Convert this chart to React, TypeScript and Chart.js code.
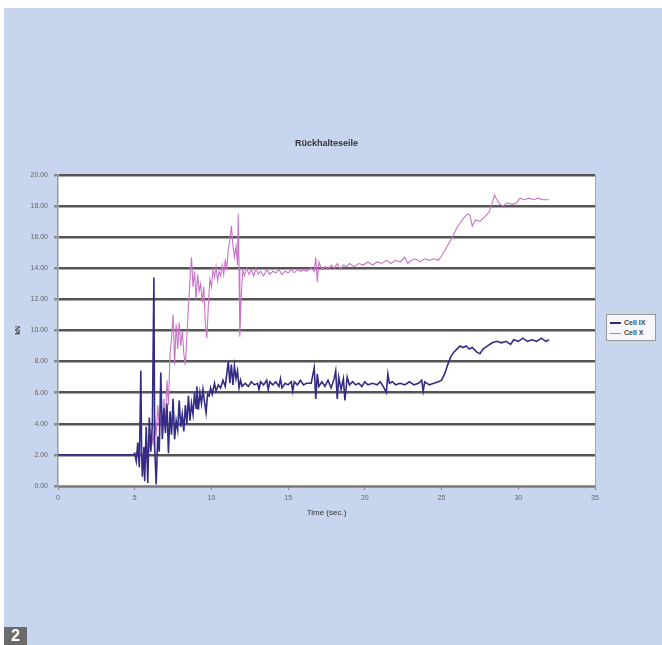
import React, { useEffect, useRef } from "react";
import { Chart, registerables } from "chart.js";

Chart.register(...registerables);

const chartTitle = "Rückhalteseile";
const xAxisTitle = "Time (sec.)";
const yAxisTitle = "kN";
const seriesNames = ["Cell IX", "Cell X"];
const seriesColors = ["#342C84", "#C873C8"];

const cellIXTime = [
  0, 4.9, 5.0, 5.1, 5.2, 5.3, 5.4, 5.45, 5.5, 5.6, 5.65, 5.75, 5.85, 5.95, 6.05, 6.15, 6.25, 6.3, 6.4, 6.5,
  6.6, 6.7, 6.8, 6.9, 7.0, 7.1, 7.2, 7.3, 7.4, 7.5, 7.6, 7.7, 7.8, 7.9, 8.0, 8.1, 8.2, 8.3, 8.4, 8.5,
  8.6, 8.7, 8.8, 8.9, 9.0, 9.05, 9.15, 9.25, 9.35, 9.45, 9.55, 9.65, 9.75, 9.85, 9.95, 10.05, 10.2, 10.3, 10.45, 10.6,
  10.75, 10.9, 11.0, 11.1, 11.2, 11.3, 11.4, 11.5, 11.6, 11.7, 11.8, 11.9, 12.0, 12.2, 12.4, 12.6, 12.8, 13.0, 13.1, 13.2,
  13.4, 13.6, 13.7, 13.8, 14.0, 14.2, 14.4, 14.5, 14.6, 14.8, 15.0, 15.2, 15.3, 15.4, 15.6, 15.8, 16.0, 16.2, 16.5, 16.7,
  16.8, 16.9, 17.0, 17.2, 17.4, 17.6, 17.8, 18.0, 18.1, 18.2, 18.3, 18.45, 18.6, 18.7, 18.85, 19.0, 19.2, 19.4, 19.6, 19.8,
  20.0, 20.2, 20.5, 20.8, 21.0, 21.2, 21.4, 21.5, 21.6, 21.8, 22.0, 22.3, 22.6, 22.9, 23.2, 23.5, 23.7, 23.8, 23.9, 24.2,
  24.5, 24.8, 25.0, 25.2, 25.4, 25.6, 25.8, 26.0, 26.2, 26.4, 26.6, 26.8, 27.0, 27.3, 27.5, 27.7, 28.0, 28.3, 28.6, 28.9,
  29.2, 29.5, 29.7, 30.0, 30.3, 30.6, 30.9, 31.2, 31.5, 31.8, 32.0,
];
const cellIXValues = [
  2.0, 2.0, 2.1, 1.6, 2.8, 1.2, 7.4, 2.0, 0.6, 2.5, 0.3, 3.8, 0.2, 4.4, 2.2, 4.0, 13.4, 2.5, 0.1, 3.2,
  2.2, 7.3, 3.0, 5.0, 3.4, 5.3, 2.1, 4.8, 3.3, 5.6, 3.0, 4.2, 3.6, 5.5, 3.8, 4.6, 3.5, 5.2, 4.0, 5.8,
  4.2, 5.3, 4.6, 6.0, 5.0, 6.4, 4.9, 6.0, 5.3, 6.2, 5.4, 4.7, 5.9, 5.8, 6.3, 5.9, 6.6, 6.1, 6.5, 6.3,
  6.8, 6.4, 7.2, 8.0, 6.6, 7.8, 6.5, 7.7, 6.9, 7.4, 6.3, 6.8, 6.4, 6.6, 6.4, 6.7, 6.5, 6.6, 6.2, 6.7,
  6.5, 6.8, 6.2, 6.7, 6.5, 6.7, 6.4, 6.9, 6.3, 6.6, 6.5, 6.7, 6.1, 6.7, 6.5, 6.8, 6.5, 6.6, 6.6, 7.6,
  5.6, 7.2, 6.4, 6.7, 6.4, 6.8, 6.3, 6.9, 7.4, 5.6, 7.0, 6.2, 6.9, 5.5, 7.0, 6.5, 6.7, 6.5, 6.6, 6.4,
  6.7, 6.5, 6.6, 6.5, 6.7, 6.4, 6.0, 7.2, 6.6, 6.7, 6.5, 6.6, 6.5, 6.7, 6.5, 6.6, 6.8, 6.1, 6.7, 6.5,
  6.6, 6.7, 6.8, 7.2, 7.8, 8.3, 8.6, 8.8, 9.0, 8.9, 9.0, 8.8, 8.9, 8.6, 8.5, 8.8, 9.0, 9.2, 9.3, 9.2,
  9.3, 9.1, 9.4, 9.3, 9.5, 9.3, 9.4, 9.3, 9.5, 9.3, 9.4,
];

const cellXTime = [
  0, 5.0, 5.3, 5.5, 5.7, 5.8, 5.9, 6.0, 6.1, 6.2, 6.3, 6.4, 6.5, 6.6, 6.7, 6.8, 6.9, 7.0, 7.1, 7.2,
  7.3, 7.4, 7.5, 7.6, 7.7, 7.8, 7.9, 8.0, 8.1, 8.2, 8.3, 8.4, 8.5, 8.6, 8.7, 8.8, 8.9, 9.0, 9.1, 9.2,
  9.3, 9.4, 9.5, 9.6, 9.7, 9.8, 9.9, 10.0, 10.1, 10.2, 10.3, 10.4, 10.5, 10.6, 10.7, 10.8, 10.9, 11.0, 11.1, 11.2,
  11.3, 11.4, 11.5, 11.6, 11.7, 11.75, 11.8, 11.85, 11.95, 12.05, 12.15, 12.3, 12.45, 12.6, 12.75, 12.9, 13.05, 13.2, 13.4, 13.6,
  13.8, 14.0, 14.2, 14.4, 14.6, 14.8, 15.0, 15.2, 15.4, 15.6, 15.8, 16.0, 16.2, 16.5, 16.7, 16.8, 16.9, 17.0, 17.2, 17.4,
  17.6, 17.8, 18.0, 18.2, 18.4, 18.6, 18.8, 19.0, 19.3, 19.6, 19.9, 20.2, 20.5, 20.8, 21.1, 21.4, 21.7, 22.0, 22.3, 22.6,
  22.8, 23.0, 23.3, 23.6, 23.9, 24.2, 24.5, 24.8, 25.0, 25.3, 25.6, 25.8, 26.0, 26.2, 26.5, 26.7, 26.85, 27.0, 27.2, 27.5,
  27.8, 28.1, 28.3, 28.45, 28.6, 28.8, 29.0, 29.3, 29.6, 29.9, 30.1, 30.4, 30.7, 31.0, 31.3, 31.6, 32.0,
];
const cellXValues = [
  2.0, 2.0, 2.2, 1.8, 2.6, 1.5, 3.0, 2.4, 3.6, 2.6, 4.5, 3.2, 5.2, 3.8, 4.3, 3.2, 5.6, 4.0, 6.8, 5.2,
  8.5, 9.5, 11.0, 7.8, 10.4, 8.8, 10.5, 9.0, 10.0, 8.5, 7.8, 9.6, 11.5, 13.2, 14.7, 12.8, 13.8, 12.0, 13.6, 12.5,
  13.0, 11.8, 12.8, 10.5, 9.5, 11.6, 13.3, 12.8, 13.9, 13.4, 14.1, 13.2, 13.8, 13.5, 14.2, 13.6, 14.5, 14.0, 15.2, 15.8,
  16.7, 15.5, 14.7, 15.4, 14.2, 17.5, 14.0, 9.6, 12.4, 13.9, 13.5, 14.0, 13.6, 13.9, 13.5, 14.0, 13.6, 13.8, 13.5, 13.9,
  13.6, 13.8, 13.7, 13.9, 13.6, 13.8, 13.7, 13.9, 13.7, 13.9, 13.8, 13.9, 13.8, 14.0, 13.8, 14.7, 13.1, 14.4, 13.9, 14.1,
  13.9, 14.2, 14.0, 14.3, 13.9, 14.2, 14.1, 14.3, 14.1, 14.3, 14.2, 14.4, 14.2, 14.4, 14.3, 14.5, 14.3, 14.5, 14.4, 14.7,
  14.3, 14.5, 14.6, 14.4, 14.6, 14.5, 14.6, 14.5, 14.8, 15.3, 15.8, 16.2, 16.6, 16.9, 17.3, 17.5, 17.4, 16.7, 17.1, 17.0,
  17.3, 17.6, 18.2, 18.7, 18.4, 18.1, 18.0, 18.2, 18.1, 18.2, 18.5, 18.4, 18.5, 18.4, 18.5, 18.4, 18.4,
];

const yTicks = [0, 2, 4, 6, 8, 10, 12, 14, 16, 18, 20];
const xTicks = [0, 5, 10, 15, 20, 25, 30, 35];

const FONT = "'Liberation Sans', Arial, sans-serif";

const plotFrame = {
  id: "plotFrame",
  beforeDraw(chart: any) {
    const { ctx, chartArea } = chart;
    ctx.save();
    ctx.fillStyle = "#ffffff";
    ctx.fillRect(chartArea.left, chartArea.top, chartArea.right - chartArea.left, chartArea.bottom - chartArea.top);
    ctx.restore();
  },
  afterDraw(chart: any) {
    const { ctx, chartArea } = chart;
    ctx.save();
    ctx.strokeStyle = "#a8a8a8";
    ctx.lineWidth = 1;
    ctx.beginPath();
    ctx.moveTo(chartArea.right + 0.5, chartArea.top);
    ctx.lineTo(chartArea.right + 0.5, chartArea.bottom);
    ctx.stroke();
    ctx.restore();
  },
};

export default function App() {
  const canvasRef = useRef<HTMLCanvasElement | null>(null);

  useEffect(() => {
    if (!canvasRef.current) return;
    const toPoints = (xs: number[], ys: number[]) => xs.map((x, i) => ({ x, y: ys[i] }));
    const chart = new Chart(canvasRef.current, {
      type: "line",
      data: {
        datasets: [
          {
            label: seriesNames[0],
            data: toPoints(cellIXTime, cellIXValues),
            borderColor: seriesColors[0],
            borderWidth: 1.6,
            pointRadius: 0,
            tension: 0,
            order: 1,
          },
          {
            label: seriesNames[1],
            data: toPoints(cellXTime, cellXValues),
            borderColor: seriesColors[1],
            borderWidth: 1.1,
            pointRadius: 0,
            tension: 0,
            order: 2,
          },
        ],
      },
      options: {
        animation: false,
        responsive: false,
        devicePixelRatio: 1,
        layout: { padding: { left: 0, top: 130, right: 67, bottom: 127 } },
        plugins: {
          legend: { display: false },
          tooltip: { enabled: false },
          title: {
            display: true,
            text: chartTitle,
            fullSize: false,
            color: "#333333",
            font: { family: FONT, size: 9 },
            padding: { top: 8, bottom: 26 },
          },
        },
        scales: {
          x: {
            type: "linear",
            min: 0,
            max: 35,
            afterBuildTicks: (scale: any) => {
              scale.ticks = xTicks.map((v) => ({ value: v }));
            },
            afterFit: (scale: any) => {
              scale.height = 32;
            },
            ticks: {
              color: "#666666",
              font: { family: FONT, size: 7 },
              padding: 4,
              maxRotation: 0,
              autoSkip: false,
            },
            grid: {
              display: true,
              drawOnChartArea: false,
              drawTicks: true,
              tickLength: 4,
              tickColor: "#8a8a8a",
            },
            border: { display: true, color: "#9a9a9a", width: 1.5 },
            title: {
              display: true,
              text: xAxisTitle,
              color: "#333333",
              font: { family: FONT, size: 8 },
              padding: { top: 0, bottom: 0 },
            },
          },
          y: {
            type: "linear",
            min: 0,
            max: 20,
            afterBuildTicks: (scale: any) => {
              scale.ticks = yTicks.map((v) => ({ value: v }));
            },
            afterFit: (scale: any) => {
              scale.width = 58;
            },
            ticks: {
              color: "#666666",
              font: { family: FONT, size: 7 },
              padding: 6,
              callback: (v: any) => Number(v).toFixed(2),
            },
            grid: {
              display: true,
              color: "#555555",
              lineWidth: 2.5,
              drawTicks: true,
              tickLength: 4,
              tickColor: "#8a8a8a",
            },
            border: { display: true, color: "#9a9a9a", width: 1.5 },
            title: {
              display: true,
              text: yAxisTitle,
              color: "#333333",
              font: { family: FONT, size: 7, weight: "bold" },
              padding: { top: 14, bottom: 0 },
            },
          },
        },
      },
      plugins: [plotFrame],
    } as any);
    return () => chart.destroy();
  }, []);

  return (
    <div
      style={{
        position: "absolute",
        left: 0,
        top: 0,
        width: 662,
        height: 645,
        background: "#ffffff",
        overflow: "hidden",
        fontFamily: FONT,
      }}
    >
      <div
        style={{
          position: "absolute",
          left: 4,
          top: 8,
          width: 658,
          height: 637,
          background: "#C7D5EE",
        }}
      />
      <canvas
        ref={canvasRef}
        width={662}
        height={645}
        style={{ position: "absolute", left: 0, top: 0, width: 662, height: 645 }}
      />
      <div
        style={{
          position: "absolute",
          left: 606,
          top: 314,
          width: 50,
          height: 27,
          background: "#f6f7fb",
          border: "1px solid #9a9a9a",
          boxSizing: "border-box",
          padding: "3px 0 0 3px",
        }}
      >
        {seriesNames.map((name, i) => (
          <div key={name} style={{ display: "flex", alignItems: "center", height: 10 }}>
            <span
              style={{
                display: "inline-block",
                width: 11,
                height: 0,
                borderTop: `${i === 0 ? 2 : 1.5}px solid ${seriesColors[i]}`,
                marginRight: 3,
              }}
            />
            <span style={{ fontSize: 7, fontWeight: "bold", color: "#444444", lineHeight: "10px" }}>{name}</span>
          </div>
        ))}
      </div>
      <div
        style={{
          position: "absolute",
          left: 4,
          top: 627,
          width: 23,
          height: 18,
          background: "#6b6b6b",
          color: "#ffffff",
          fontWeight: "bold",
          fontSize: 16,
          lineHeight: "18px",
          textAlign: "center",
          fontFamily: "'Liberation Sans Narrow', 'Liberation Sans', Arial, sans-serif",
        }}
      >
        2
      </div>
    </div>
  );
}
